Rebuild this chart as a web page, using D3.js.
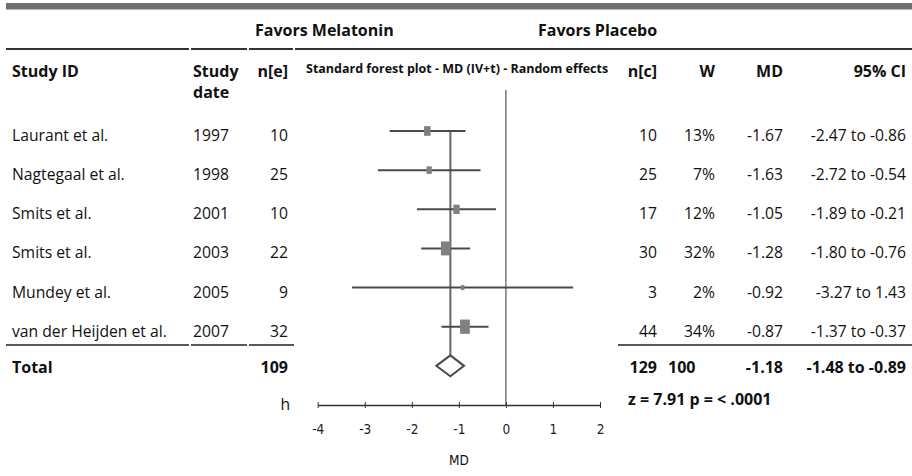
<!DOCTYPE html>
<html>
<head>
<meta charset="utf-8">
<script src="https://cdn.jsdelivr.net/npm/d3@7"></script>
<style>
  body { margin: 0; background: #fff; }
  svg text { font-family: "Open Sans", sans-serif; fill: #111; }
  .b { font-weight: bold; }
  .axis text { font-family: "Liberation Sans Narrow", "DejaVu Sans Condensed", sans-serif; font-size: 13.5px; fill: #222; }
</style>
</head>
<body>
<div id="chart"></div>
<script>
// study rows
var studies = ["Laurant et al.", "Nagtegaal et al.", "Smits et al.", "Smits et al.", "Mundey et al.", "van der Heijden et al."];
var years   = [1997, 1998, 2001, 2003, 2005, 2007];
var nE      = [10, 25, 10, 22, 9, 32];
var nC      = [10, 25, 17, 30, 3, 44];
var weights = [13, 7, 12, 32, 2, 34];
var md      = [-1.67, -1.63, -1.05, -1.28, -0.92, -0.87];
var lo      = [-2.47, -2.72, -1.89, -1.80, -3.27, -1.37];
var hi      = [-0.86, -0.54, -0.21, -0.76, 1.43, -0.37];

// pooled
var totalE = 109, totalC = 129, totalW = "100";
var pooledMD = -1.18, pooledLo = -1.48, pooledHi = -0.89;
var zText = "z = 7.91 p = < .0001";

var ticks = [-4, -3, -2, -1, 0, 1, 2];

var width = 912, height = 476;
var fs = 15.7;

var svg = d3.select("#chart").append("svg")
    .attr("width", width)
    .attr("height", height);

var x = d3.scaleLinear().domain([-4, 2]).range([317.7, 600]);
// row index -> y: 0..5 studies, 6 total, 7 axis
var y = d3.scaleLinear().domain([0, 7]).range([131, 405]);
var box = d3.scaleSqrt().domain([2, 34]).range([5, 14.3]);

function f2(v) { return v.toFixed(2); }
function ci(a, b) { return f2(a) + " to " + f2(b); }

// top band and rule lines
svg.append("rect").attr("x", 6).attr("y", 3).attr("width", width - 6).attr("height", 6.5).attr("fill", "#707070");

var hdrSegs = [[6, 189], [191, 247], [249, 293], [295, 912]];
svg.selectAll(".hdr").data(hdrSegs).enter().append("line")
    .attr("x1", function(d) { return d[0]; }).attr("x2", function(d) { return d[1]; })
    .attr("y1", 49).attr("y2", 49)
    .attr("stroke", "#333").attr("stroke-width", 2);

var sepSegs = [[6, 189], [191, 247], [249, 294], [618, 912]];
svg.selectAll(".sep").data(sepSegs).enter().append("line")
    .attr("x1", function(d) { return d[0]; }).attr("x2", function(d) { return d[1]; })
    .attr("y1", 345).attr("y2", 345)
    .attr("stroke", "#222").attr("stroke-width", 1.5);

// top labels
svg.append("text").attr("class", "b").attr("x", 255).attr("y", 36).style("font-size", "16px").text("Favors Melatonin");
svg.append("text").attr("class", "b").attr("x", 538).attr("y", 36).style("font-size", "16px").text("Favors Placebo");

// column headers
function hdr(txt, xx, yy, anchor, size) {
  svg.append("text").attr("class", "b").attr("x", xx).attr("y", yy)
      .attr("text-anchor", anchor || "start")
      .style("font-size", (size || 16) + "px").text(txt);
}
hdr("Study ID", 12, 77);
hdr("Study", 193, 77);
hdr("date", 193, 98);
hdr("n[e]", 288, 77, "end");
hdr("Standard forest plot - MD (IV+t) - Random effects", 306, 73, "start", 12.5);
hdr("n[c]", 657, 77, "end");
hdr("W", 715, 77, "end");
hdr("MD", 783, 77, "end");
hdr("95% CI", 906, 77, "end");

// reference lines
svg.append("line").attr("x1", x(0)).attr("x2", x(0)).attr("y1", 90).attr("y2", y(7))
    .attr("stroke", "#777").attr("stroke-width", 1.5);
svg.append("line").attr("x1", x(pooledMD)).attr("x2", x(pooledMD)).attr("y1", y(0)).attr("y2", y(6) - 10.5)
    .attr("stroke", "#666").attr("stroke-width", 2);

// study rows
var rows = svg.selectAll(".row").data(studies).enter().append("g").attr("class", "row");

rows.append("line")
    .attr("x1", function(d, i) { return x(lo[i]); })
    .attr("x2", function(d, i) { return x(hi[i]); })
    .attr("y1", function(d, i) { return y(i); })
    .attr("y2", function(d, i) { return y(i); })
    .attr("stroke", "#4a4a4a").attr("stroke-width", 2);

rows.append("rect")
    .attr("x", function(d, i) { return x(md[i]) - box(weights[i]) * 0.34; })
    .attr("y", function(d, i) { return y(i) - box(weights[i]) / 2; })
    .attr("width", function(d, i) { return box(weights[i]) * 0.68; })
    .attr("height", function(d, i) { return box(weights[i]); })
    .attr("fill", "#808080");

function cell(sel, xx, anchor, fn) {
  sel.append("text").attr("x", xx).attr("y", function(d, i) { return y(i) + 10; })
      .attr("text-anchor", anchor).style("font-size", fs + "px").text(fn);
}
cell(rows, 12, "start", function(d) { return d; });
cell(rows, 193, "start", function(d, i) { return years[i]; });
cell(rows, 288, "end", function(d, i) { return nE[i]; });
cell(rows, 657, "end", function(d, i) { return nC[i]; });
cell(rows, 715, "end", function(d, i) { return weights[i] + "%"; });
cell(rows, 783, "end", function(d, i) { return f2(md[i]); });
cell(rows, 906, "end", function(d, i) { return ci(lo[i], hi[i]); });

// total row
var ty = y(6);
svg.append("path")
    .attr("d", "M" + x(pooledLo) + "," + ty + "L" + x(pooledMD) + "," + (ty - 10.5) +
               "L" + x(pooledHi) + "," + ty + "L" + x(pooledMD) + "," + (ty + 10.5) + "Z")
    .attr("fill", "#fff").attr("stroke", "#4a4a4a").attr("stroke-width", 2);

hdr("Total", 12, ty + 7);
hdr(totalE, 288, ty + 7, "end");
hdr(totalC, 657, ty + 7, "end");
hdr(totalW, 668, ty + 7, "start");
hdr(f2(pooledMD), 783, ty + 7, "end");
hdr(ci(pooledLo, pooledHi), 906, ty + 7, "end");

// axis
var ay = y(7);
var axis = svg.append("g").attr("class", "axis").attr("transform", "translate(0," + ay + ")")
    .call(d3.axisBottom(x).tickValues(ticks).tickSize(3).tickSizeOuter(0).tickPadding(16)
        .tickFormat(function(d) { return String(d); }));
axis.select(".domain").attr("stroke", "#333").attr("stroke-width", 1.5);
axis.selectAll(".tick line").attr("y1", -3).attr("y2", 3).attr("stroke", "#333");

svg.append("text").attr("x", (x(-4) + x(2)) / 2).attr("y", 465)
    .attr("text-anchor", "middle")
    .style("font-family", "'Liberation Sans Narrow', 'DejaVu Sans Condensed', sans-serif")
    .style("font-size", "13.5px").text("MD");

svg.append("text").attr("x", 290).attr("y", 410).attr("text-anchor", "end").style("font-size", fs + "px").text("h");
hdr(zText, 628, 405);
</script>
</body>
</html>
